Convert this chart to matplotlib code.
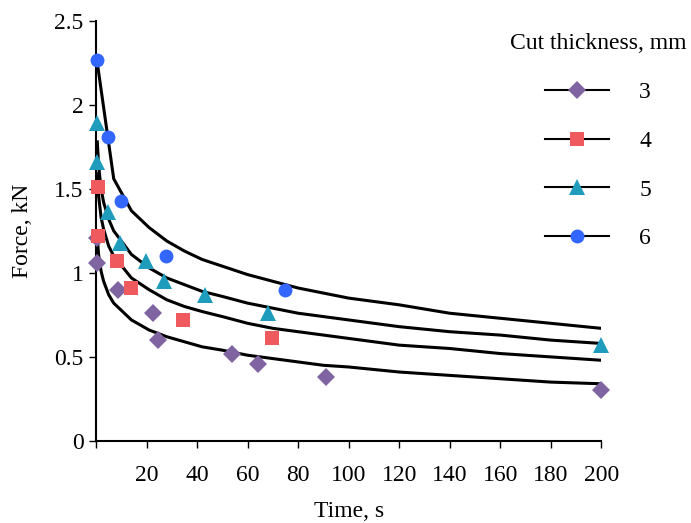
import matplotlib
matplotlib.use("Agg")
import matplotlib.pyplot as plt
from matplotlib.lines import Line2D

plt.rcParams["font.family"] = ["Liberation Serif", "DejaVu Serif"]

# measured points (time, s / force, kN)
t_3 = [0.4, 0.4, 8.7, 22.6, 24.6, 54, 64, 91, 200]
f_3 = [1.21, 1.06, 0.90, 0.76, 0.60, 0.52, 0.46, 0.38, 0.30]
t_4 = [0.6, 0.6, 8.3, 14, 34.5, 69.5]
f_4 = [1.51, 1.22, 1.07, 0.91, 0.72, 0.61]
t_5 = [0.5, 0.5, 4.8, 9.3, 19.8, 27, 43, 68, 200]
f_5 = [1.89, 1.66, 1.36, 1.18, 1.07, 0.95, 0.87, 0.76, 0.57]
t_6 = [0.5, 4.6, 9.9, 27.5, 75]
f_6 = [2.27, 1.81, 1.43, 1.10, 0.90]

# fitted curves
t_fit1 = [0.5, 7, 14, 21, 28, 35, 42, 50, 60, 70, 80, 90, 100, 120, 140, 160, 180, 200]
fit_6 = [2.25, 1.56, 1.37, 1.27, 1.19, 1.13, 1.08, 1.04, 0.99, 0.95, 0.91, 0.88, 0.85, 0.81, 0.76, 0.73, 0.70, 0.67]
t_fit = [0.5, 1, 2, 3, 5, 7, 14, 21, 28, 35, 42, 50, 60, 70, 80, 90, 100, 120, 140, 160, 180, 200]
fit_5 = [1.78, 1.64, 1.50, 1.42, 1.32, 1.25, 1.11, 1.03, 0.97, 0.93, 0.89, 0.86, 0.82, 0.79, 0.76, 0.74, 0.72, 0.68, 0.65, 0.63, 0.60, 0.58]
fit_4 = [1.59, 1.46, 1.33, 1.26, 1.16, 1.10, 0.97, 0.90, 0.84, 0.80, 0.77, 0.74, 0.70, 0.67, 0.65, 0.63, 0.61, 0.57, 0.55, 0.52, 0.50, 0.48]
fit_3 = [1.21, 1.11, 1.01, 0.95, 0.87, 0.82, 0.72, 0.66, 0.62, 0.59, 0.56, 0.54, 0.51, 0.49, 0.47, 0.45, 0.44, 0.41, 0.39, 0.37, 0.35, 0.34]

labels = ["3", "4", "5", "6"]
colors = ["#8064A2", "#EE5A5E", "#1F9CBB", "#3366FF"]
markers = ["D", "s", "^", "o"]
sizes = [9, 10, 11, 10]

fig = plt.figure(figsize=(6.91, 5.23), dpi=100)
ax = fig.add_axes([0.139, 0.157, 0.731, 0.803])

ax.plot(t_fit1, fit_6, color="black", lw=2.2)
ax.plot(t_fit, fit_5, color="black", lw=2.2)
ax.plot(t_fit, fit_4, color="black", lw=2.2)
ax.plot(t_fit, fit_3, color="black", lw=2.2)

series = [(t_3, f_3), (t_4, f_4), (t_5, f_5), (t_6, f_6)]
for (t, f), c, m, s in zip(series, colors, markers, sizes):
    ax.plot(t, f, linestyle="none", marker=m, color=c, markersize=s,
            markeredgewidth=0, clip_on=False, zorder=3)

ax.set_xlim(0, 200)
ax.set_ylim(0, 2.5)
ax.set_xticks(range(0, 201, 20))
ax.set_xticklabels([""] + [str(v) for v in range(20, 201, 20)])
ax.set_yticks([0, 0.5, 1, 1.5, 2, 2.5])
ax.set_yticklabels(["0", "0.5", "1", "1.5", "2", "2.5"])
ax.tick_params(axis="x", direction="out", length=5, width=1, pad=12, labelsize=17)
ax.tick_params(axis="y", direction="out", length=5, width=1, pad=4, labelsize=17)
for side in ["top", "right"]:
    ax.spines[side].set_visible(False)
for side in ["left", "bottom"]:
    ax.spines[side].set_linewidth(1.5)

ax.set_xlabel("Time, s", fontsize=17, labelpad=11)
ax.set_ylabel("Force, kN", fontsize=17, labelpad=15)

handles = [Line2D([0], [0], color="black", lw=1.5, marker=m, markersize=s,
                  markerfacecolor=c, markeredgewidth=0)
           for c, m, s in zip(colors, markers, sizes)]
leg = fig.legend(handles, labels, title="Cut thickness, mm", loc="upper right",
                 bbox_to_anchor=(1.0, 0.946), frameon=False, fontsize=17,
                 title_fontsize=17, handlelength=2.7, labelspacing=1.15,
                 handletextpad=1.3, borderaxespad=0.0, borderpad=0.2)
leg._legend_box.align = "center"
leg._legend_box.sep = 20

fig.savefig("out.png", dpi=100)
